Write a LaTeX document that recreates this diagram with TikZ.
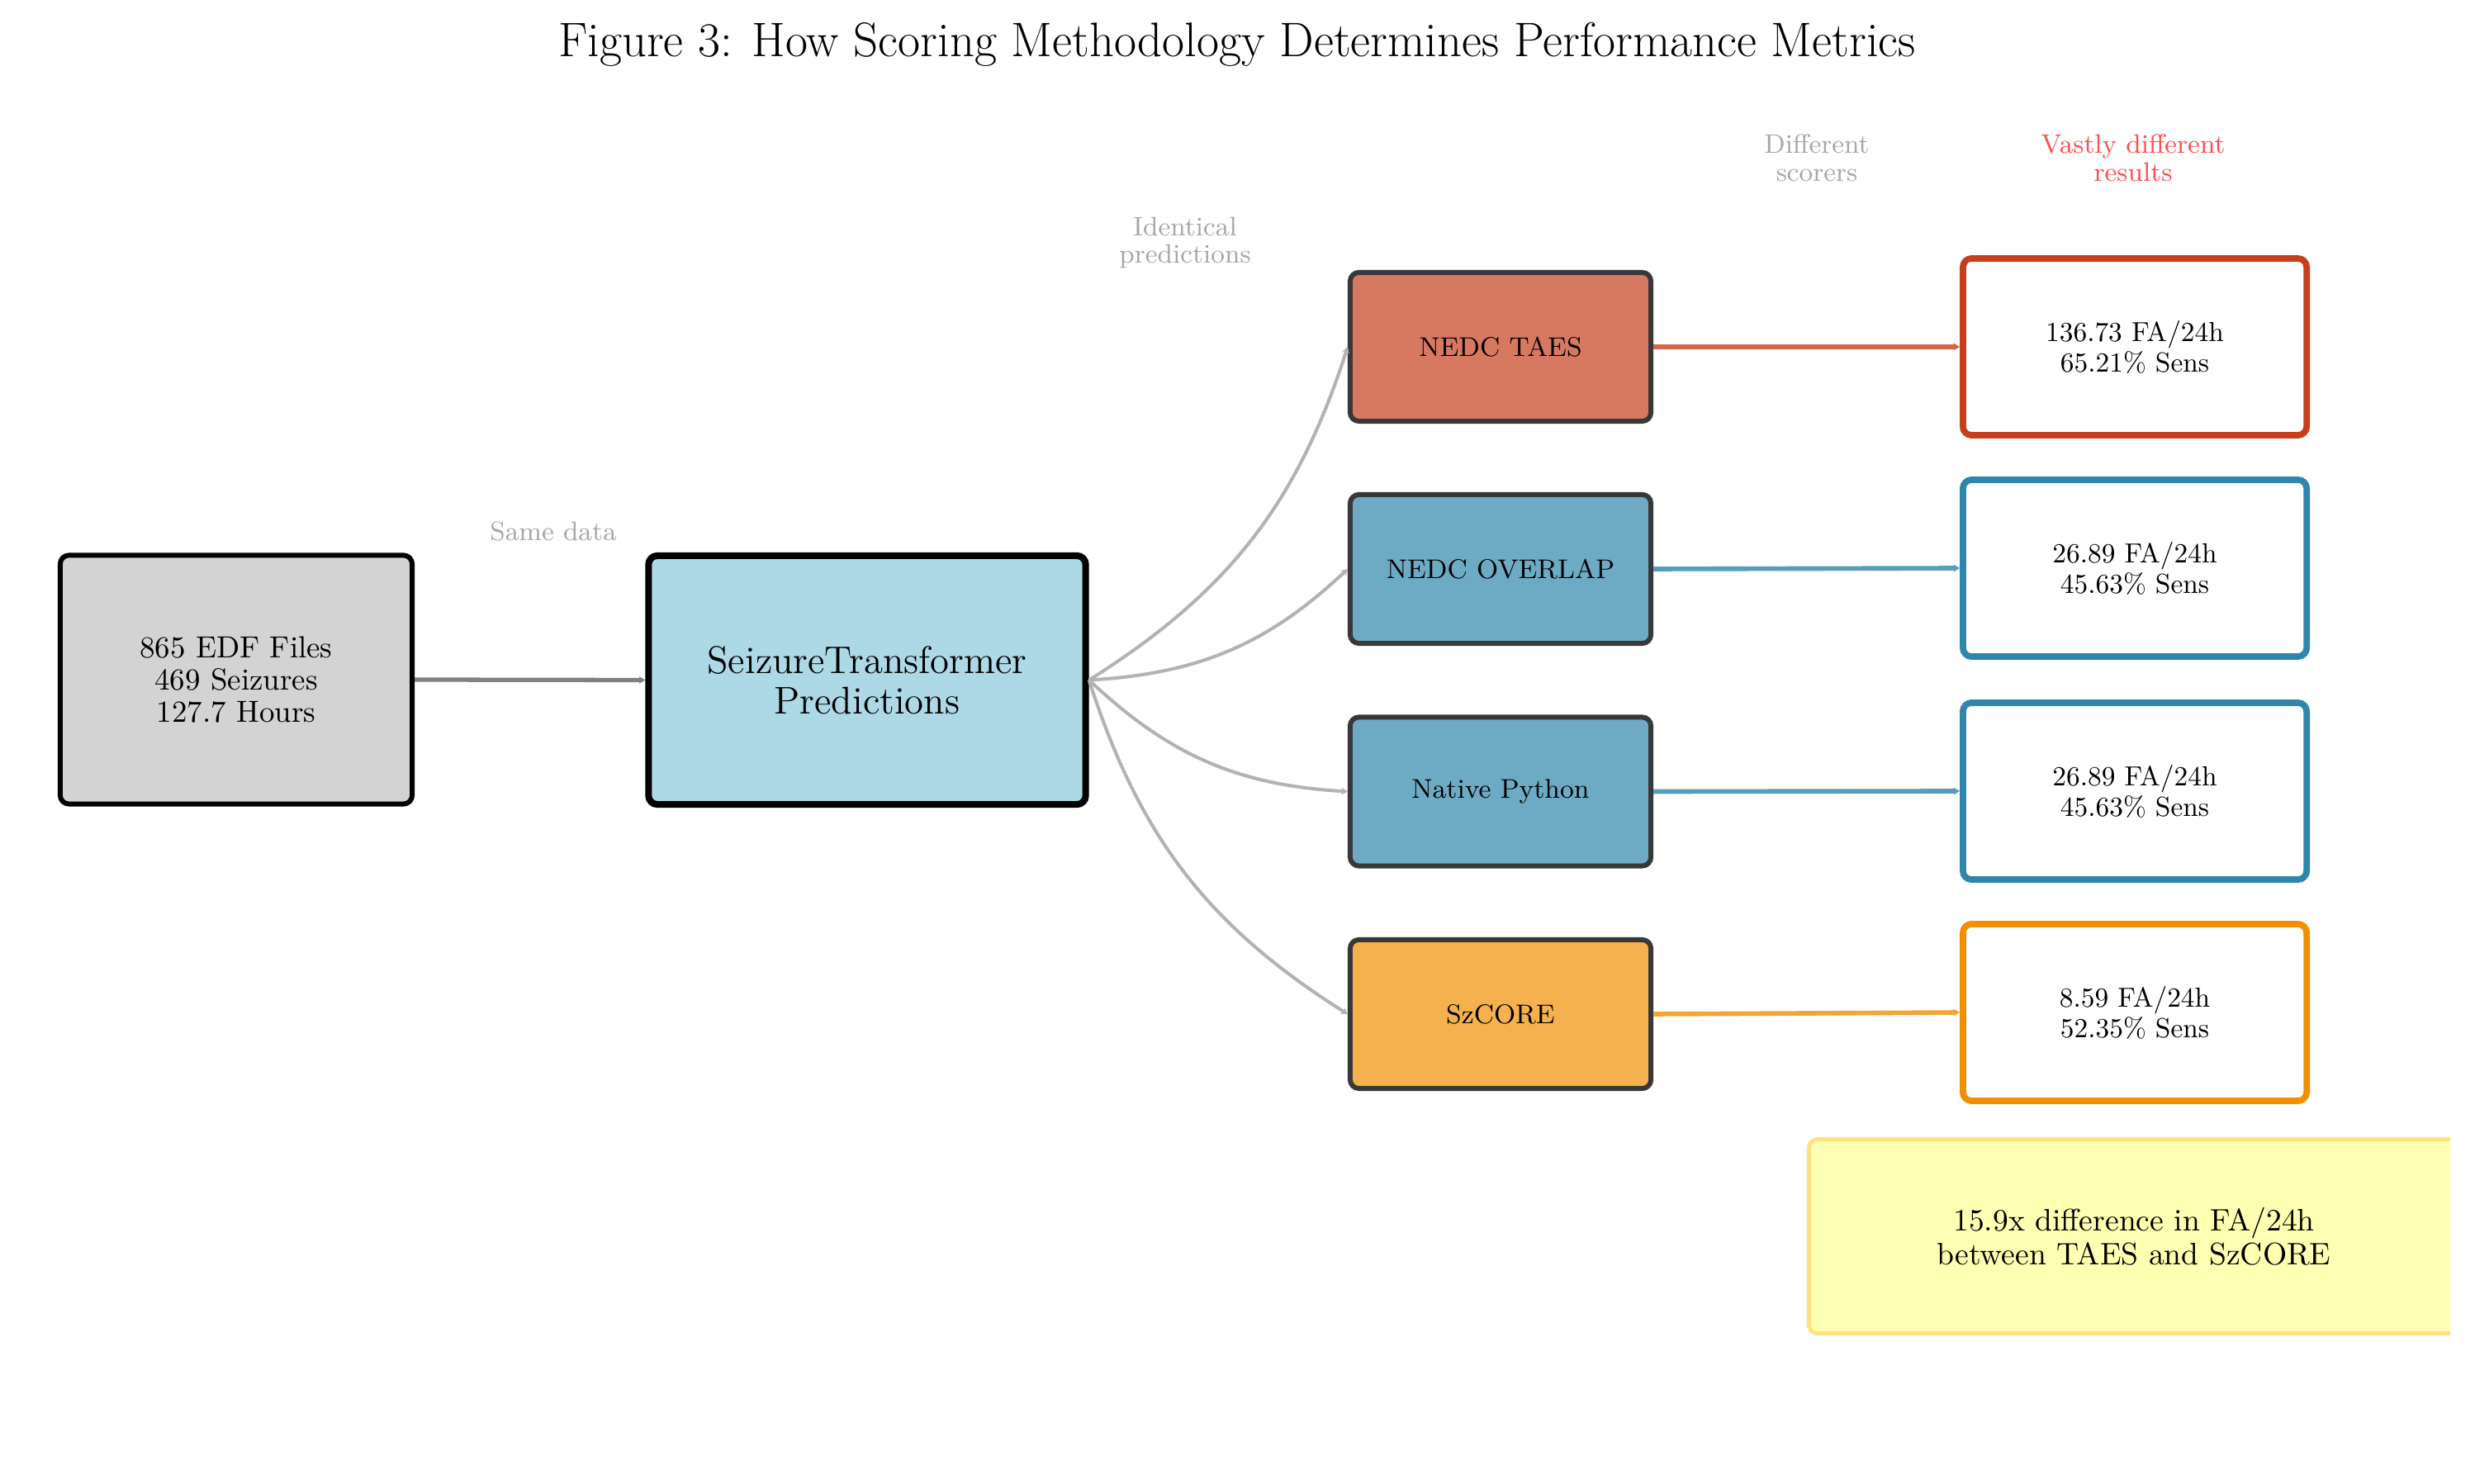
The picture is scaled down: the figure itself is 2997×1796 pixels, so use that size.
\documentclass[tikz,border=0pt]{standalone}
\usetikzlibrary{arrows.meta}
\definecolor{taes}{HTML}{C73E1D}
\definecolor{taesfill}{HTML}{D77861}
\definecolor{taesline}{HTML}{D2654A}
\definecolor{blu}{HTML}{2E86AB}
\definecolor{blufill}{HTML}{6DAAC4}
\definecolor{bluline}{HTML}{589EBC}
\definecolor{org}{HTML}{F18F01}
\definecolor{orgfill}{HTML}{F5B14D}
\definecolor{orgline}{HTML}{F4A534}
\definecolor{inbox}{HTML}{D3D3D3}
\definecolor{predbox}{HTML}{ADD8E6}
\definecolor{labgray}{HTML}{A6A6A6}
\definecolor{labred}{HTML}{FF4D4D}
\definecolor{curvegray}{HTML}{B3B3B3}
\definecolor{yelfill}{HTML}{FFFFB2}
\definecolor{yeldraw}{HTML}{FFE27F}
\definecolor{scoreborder}{HTML}{383838}
\definecolor{linkgray}{HTML}{808080}
\tikzset{
  box/.style={draw, rounded corners=3pt, align=center, inner sep=0pt},
  scorerbox/.style={box, draw=scoreborder, line width=1.7pt, minimum width=3.64cm, minimum height=1.80cm, font=\fontsize{9.3}{10.5}\selectfont},
  resultbox/.style={box, fill=white, line width=2.2pt, minimum width=4.16cm, minimum height=2.14cm, font=\fontsize{9.5}{10.5}\selectfont},
  lab/.style={align=center, inner sep=0pt, text=labgray, font=\fontsize{9.2}{9.6}\selectfont},
  tip/.style={-{Stealth[length=2.2pt,width=2.6pt]}},
  curve/.style={tip, draw=curvegray, line width=1.15pt, bend right=20},
  link/.style={tip, line width=1.6pt}
}
\begin{document}
\begin{tikzpicture}[x=0.01cm,y=0.01cm]
\useasboundingbox (0,0) rectangle (2997,1796);
\fill[white] (0,0) rectangle (2997,1796);

\node[anchor=base, inner sep=0pt, font=\fontsize{16.7}{20}\selectfont] (title) at (1498,1727) {Figure 3: How Scoring Methodology Determines Performance Metrics};

\node[box, fill=inbox, line width=1.7pt, minimum width=4.26cm, minimum height=3.01cm, font=\fontsize{10.5}{11}\selectfont] (input) at (286,973) {865 EDF Files\\469 Seizures\\127.7 Hours};

\node[box, fill=predbox, line width=2.3pt, minimum width=5.29cm, minimum height=3.01cm, font=\fontsize{13.3}{14}\selectfont] (pred) at (1050,972.5) {SeizureTransformer\\Predictions};

\node[scorerbox, fill=taesfill] (s1) at (1817,1376) {NEDC TAES};
\node[scorerbox, fill=blufill] (s2) at (1817,1107) {NEDC OVERLAP};
\node[scorerbox, fill=blufill] (s3) at (1817,837.5) {Native Python};
\node[scorerbox, fill=orgfill] (s4) at (1817,568) {SzCORE};

\node[resultbox, draw=taes] (r1) at (2585,1376) {136.73 FA/24h\\65.21\% Sens};
\node[resultbox, draw=blu] (r2) at (2585,1108) {26.89 FA/24h\\45.63\% Sens};
\node[resultbox, draw=blu] (r3) at (2585,838) {26.89 FA/24h\\45.63\% Sens};
\node[resultbox, draw=org] (r4) at (2585,570) {8.59 FA/24h\\52.35\% Sens};

\node[lab, anchor=base] (same) at (670,1141) {Same data};
\node[lab] (ident) at (1435,1502) {Identical\\predictions};
\node[lab] (diffs) at (2200,1605) {Different\\scorers};
\node[lab, text=labred] (vast) at (2583,1605) {Vastly different\\results};

\begin{scope}
\clip (0,0) rectangle (2967,1796);
\node[box, fill=yelfill, draw=yeldraw, line width=1.4pt, minimum width=7.87cm, minimum height=2.35cm, font=\fontsize{10.7}{11.7}\selectfont] (note) at (2584,299) {15.9x difference in FA/24h\\between TAES and SzCORE};
\end{scope}

\draw[link, draw=linkgray, line width=1.5pt] (input.east) -- (pred.west);

\draw[curve] (pred.east) to (s1.west);
\draw[curve] (pred.east) to (s2.west);
\draw[curve] (pred.east) to (s3.west);
\draw[curve] (pred.east) to (s4.west);

\draw[link, draw=taesline] (s1.east) -- (r1.west);
\draw[link, draw=bluline] (s2.east) -- (r2.west);
\draw[link, draw=bluline] (s3.east) -- (r3.west);
\draw[link, draw=orgline] (s4.east) -- (r4.west);
\end{tikzpicture}
\end{document}
